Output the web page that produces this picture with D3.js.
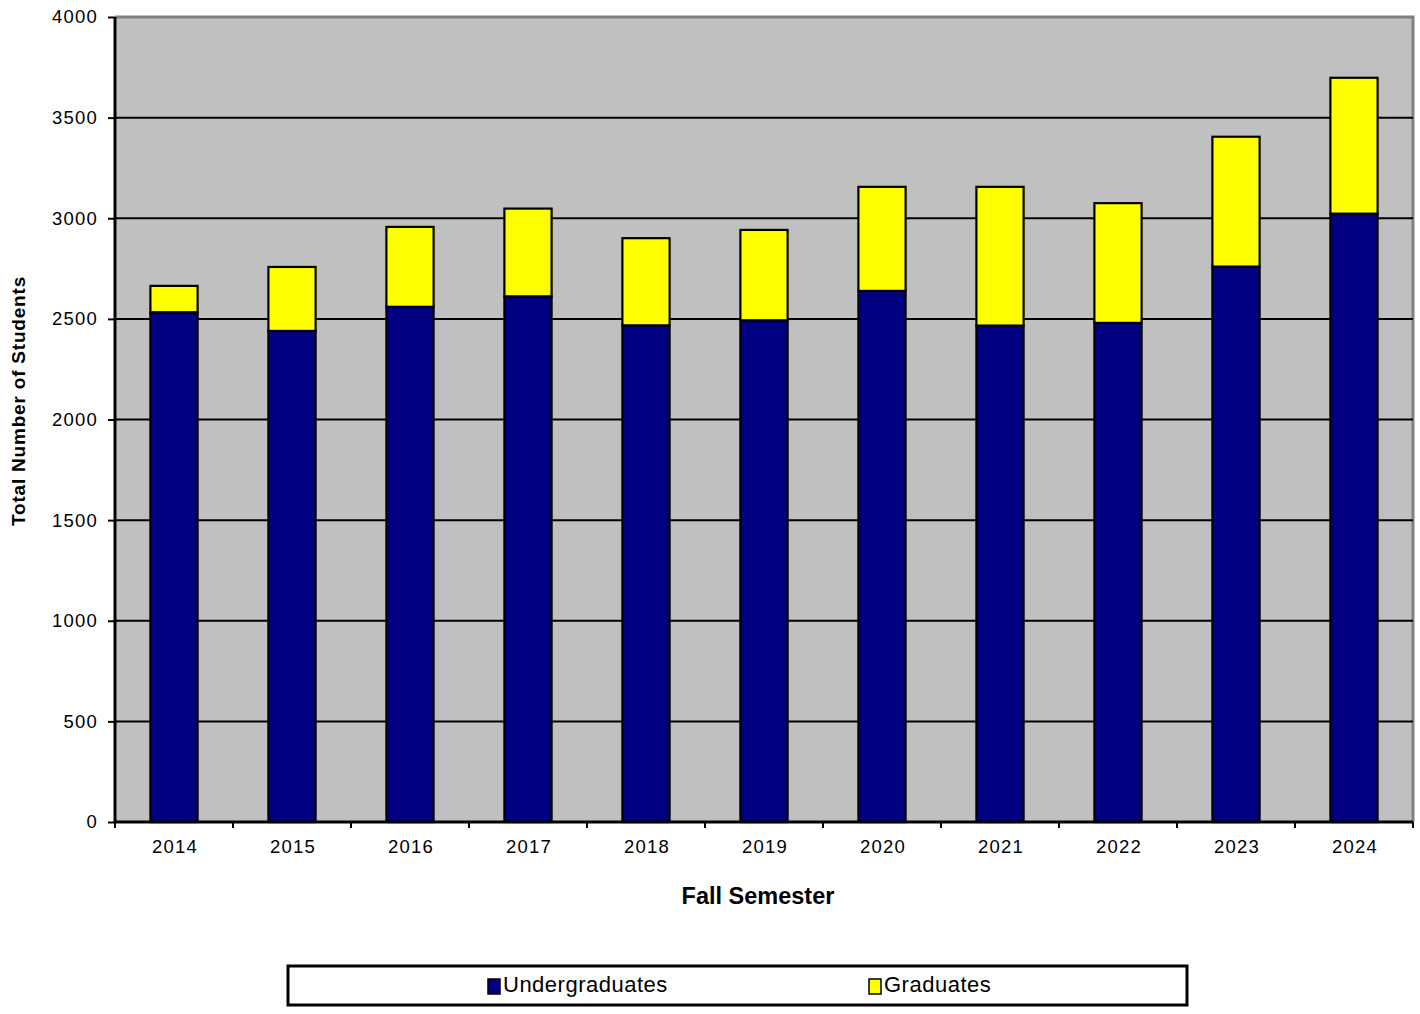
<!DOCTYPE html>
<html>
<head>
<meta charset="utf-8">
<script src="https://cdn.jsdelivr.net/npm/d3@7"></script>
<style>
  html, body { margin: 0; padding: 0; background: #fff; }
  svg { display: block; font-family: "Liberation Sans", Arial, sans-serif; }
</style>
</head>
<body>
<svg id="chart" width="1420" height="1014"></svg>
<script>
const years = ["2014","2015","2016","2017","2018","2019","2020","2021","2022","2023","2024"];
const undergraduates = [2533, 2440, 2560, 2612, 2468, 2493, 2639, 2467, 2480, 2760, 3023];
const graduates = [131, 318, 397, 436, 433, 449, 517, 689, 595, 645, 675];
const yTicks = [0, 500, 1000, 1500, 2000, 2500, 3000, 3500, 4000];
const seriesNames = ["Undergraduates", "Graduates"];
const seriesColors = ["#000080", "#FFFF00"];

const svg = d3.select("#chart");
const L = 115, R = 1413, T = 17, B = 822;

const x = d3.scaleBand().domain(years).range([L, R]).paddingInner(0.6).paddingOuter(0.3);
const y = d3.scaleLinear().domain([0, 4000]).range([B, T]);

// plot background
svg.append("rect").attr("x", L).attr("y", T).attr("width", R - L).attr("height", B - T)
  .attr("fill", "#C0C0C0");

// top/right grey border
svg.append("path").attr("d", `M${L},${T}H${R}V${B}`).attr("fill", "none")
  .attr("stroke", "#808080").attr("stroke-width", 3);

// gridlines
svg.append("g").selectAll("line").data(yTicks.filter(d => d > 0 && d < 4000)).join("line")
  .attr("x1", L).attr("x2", R).attr("y1", d => y(d)).attr("y2", d => y(d))
  .attr("stroke", "#000").attr("stroke-width", 2);

// stacked data
const table = years.map((yr, i) => ({ year: yr, Undergraduates: undergraduates[i], Graduates: graduates[i] }));
const stack = d3.stack().keys(seriesNames)(table);

svg.append("g").selectAll("g").data(stack).join("g")
  .attr("fill", (d, i) => seriesColors[i])
  .selectAll("rect").data(d => d).join("rect")
  .attr("x", d => x(d.data.year))
  .attr("width", x.bandwidth())
  .attr("y", d => y(d[1]))
  .attr("height", d => y(d[0]) - y(d[1]))
  .attr("stroke", "#000").attr("stroke-width", 2.2);

// y axis
const yAxis = d3.axisLeft(y).tickValues(yTicks).tickSize(7).tickPadding(10).tickFormat(d3.format("d"));
const gy = svg.append("g").attr("transform", `translate(${L},0)`).call(yAxis);
gy.select(".domain").attr("stroke", "#000").attr("stroke-width", 3).attr("d", `M0,${T}V${B}`);
gy.selectAll(".tick line").attr("stroke", "#000").attr("stroke-width", 2);
gy.selectAll(".tick text").attr("font-size", 18.5).attr("fill", "#000")
  .attr("letter-spacing", "1.2px").attr("font-family", "Liberation Sans, Arial, sans-serif");

// x axis: ticks at category boundaries
const gx = svg.append("g").attr("transform", `translate(0,${B})`);
gx.append("line").attr("x1", L).attr("x2", R).attr("y1", 0).attr("y2", 0)
  .attr("stroke", "#000").attr("stroke-width", 3);
const step = x.step();
const bounds = d3.range(years.length + 1).map(i => L + i * step);
gx.selectAll("line.tk").data(bounds).join("line").attr("class", "tk")
  .attr("x1", d => d).attr("x2", d => d).attr("y1", 0).attr("y2", 6)
  .attr("stroke", "#000").attr("stroke-width", 2);
gx.selectAll("text").data(years).join("text")
  .attr("x", d => x(d) + x.bandwidth() / 2 + 1)
  .attr("y", 31)
  .attr("text-anchor", "middle")
  .attr("font-size", 18.5).attr("letter-spacing", "1.2px").attr("fill", "#000")
  .text(d => d);

// axis titles
svg.append("text").attr("x", 758).attr("y", 904).attr("text-anchor", "middle")
  .attr("font-size", 23.5).attr("font-weight", "bold").attr("fill", "#000")
  .text("Fall Semester");
svg.append("text").attr("transform", "translate(25,401) rotate(-90)").attr("text-anchor", "middle")
  .attr("font-size", 19).attr("font-weight", "bold").attr("letter-spacing", "0.8px").attr("fill", "#000")
  .text("Total Number of Students");

// legend
const lg = svg.append("g");
lg.append("rect").attr("x", 288).attr("y", 966).attr("width", 899).attr("height", 39)
  .attr("fill", "#fff").attr("stroke", "#000").attr("stroke-width", 3);
const legendPos = [488, 869];
seriesNames.forEach((name, i) => {
  lg.append("rect").attr("x", legendPos[i]).attr("y", 979).attr("width", 12).attr("height", 15)
    .attr("fill", seriesColors[i]).attr("stroke", "#000").attr("stroke-width", 1.5);
  lg.append("text").attr("x", legendPos[i] + 15).attr("y", 992)
    .attr("font-size", 22).attr("letter-spacing", "0.5px").attr("fill", "#000").text(name);
});
</script>
</body>
</html>
